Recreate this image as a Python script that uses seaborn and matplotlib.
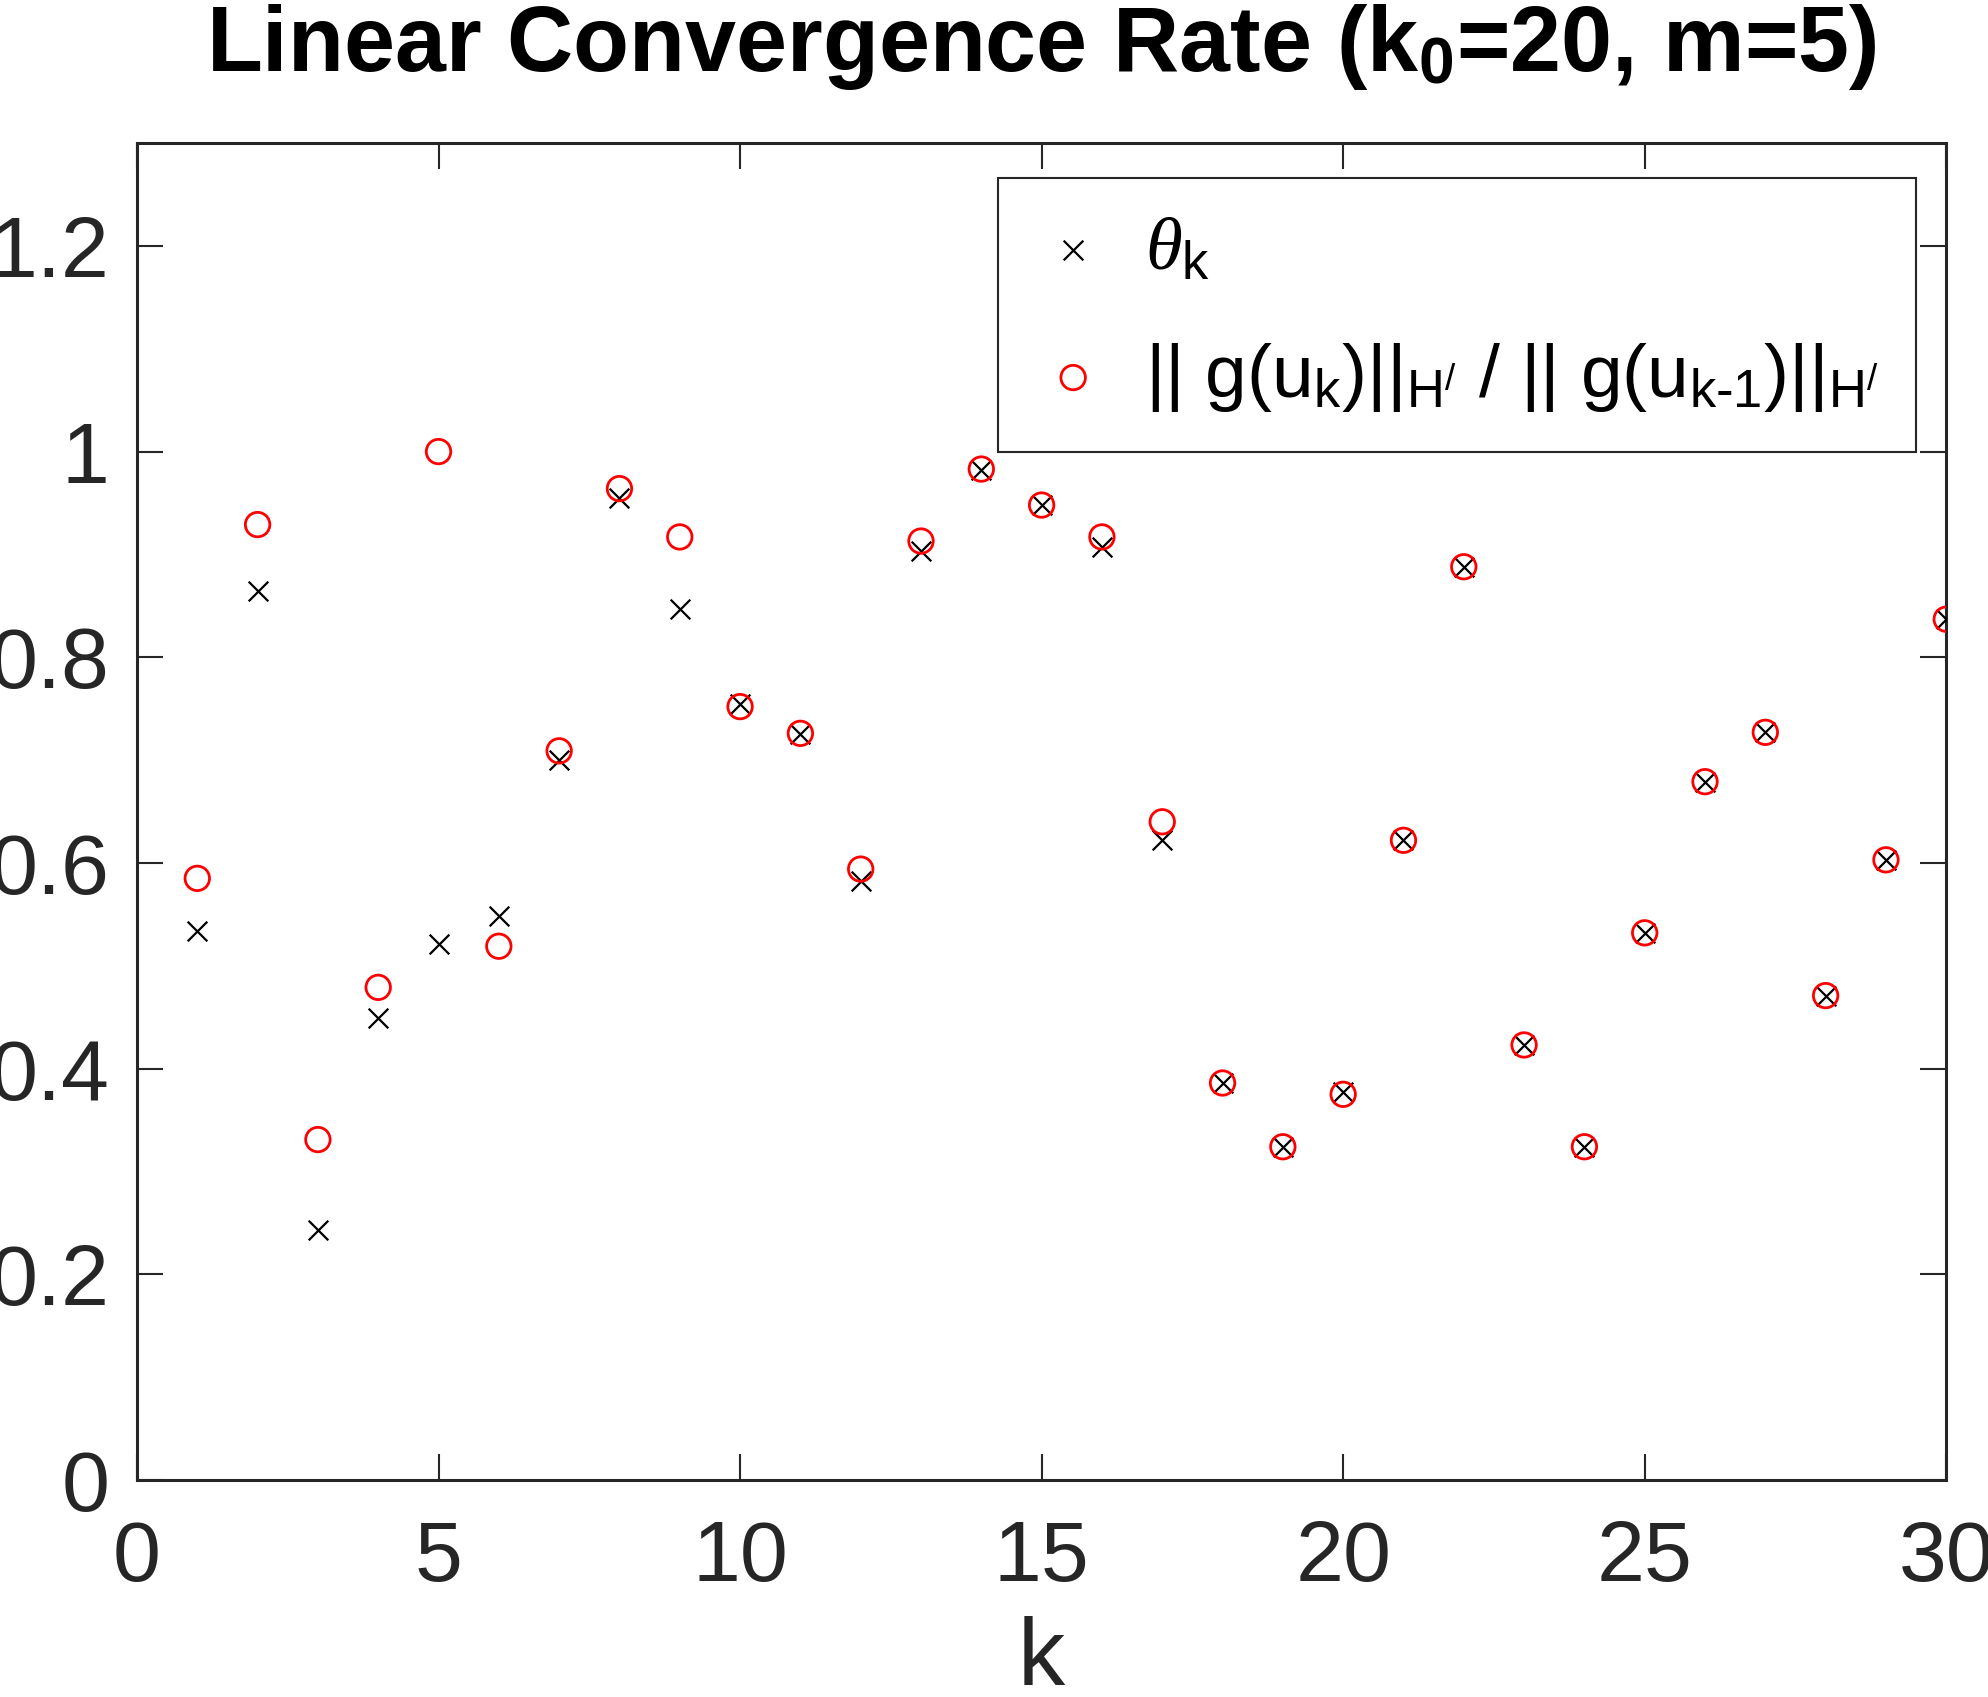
import numpy as np
import pandas as pd
import seaborn as sns
import matplotlib
matplotlib.use("Agg")
import matplotlib.pyplot as plt

k_values = list(range(1, 31))
theta_k = [0.534, 0.864, 0.243, 0.449, 0.521, 0.548, 0.700, 0.955, 0.847, 0.755,
           0.725, 0.582, 0.903, 0.982, 0.948, 0.907, 0.622, 0.386, 0.324, 0.377,
           0.622, 0.888, 0.423, 0.324, 0.532, 0.679, 0.727, 0.471, 0.603, 0.837]
grad_ratio = [0.585, 0.929, 0.331, 0.479, 1.000, 0.519, 0.709, 0.964, 0.917, 0.752,
              0.726, 0.594, 0.913, 0.983, 0.948, 0.917, 0.640, 0.386, 0.324, 0.375,
              0.622, 0.888, 0.423, 0.324, 0.532, 0.679, 0.727, 0.471, 0.603, 0.837]
x_ticks = [0, 5, 10, 15, 20, 25, 30]
y_ticks = [0, 0.2, 0.4, 0.6, 0.8, 1.0, 1.2]
y_tick_labels = ["0", "0.2", "0.4", "0.6", "0.8", "1", "1.2"]

df = pd.DataFrame({"k": k_values, "theta": theta_k, "ratio": grad_ratio})

sns.set_theme(style="ticks")
plt.rcParams['font.family'] = ['Liberation Sans', 'DejaVu Sans']
plt.rcParams['mathtext.fontset'] = 'custom'
plt.rcParams['mathtext.rm'] = 'Liberation Sans'
plt.rcParams['mathtext.it'] = 'Liberation Serif:italic'
plt.rcParams['mathtext.bf'] = 'Liberation Sans:bold'

fig = plt.figure(figsize=(19.88, 16.97), dpi=100)
ax = fig.add_axes([0.0689, 0.1279, 0.9101, 0.7878])

sns.scatterplot(data=df, x="k", y="theta", ax=ax, marker="x",
                s=200, color="black", linewidth=1.6,
                label=r"$\theta_{\mathrm{k}}$", zorder=3)
sns.scatterplot(data=df, x="k", y="ratio", ax=ax, marker="o",
                s=310, facecolor="none", edgecolor="red", color="red",
                linewidth=2.0,
                label=r"|| g(u$_{\mathrm{k}}$)||$_{\mathrm{H}^{\mathrm{/}}}$ / || g(u$_{\mathrm{k\text{-}1}}$)||$_{\mathrm{H}^{\mathrm{/}}}$",
                zorder=4)

ax.set_xlim(0, 30)
ax.set_ylim(0, 1.3)
ax.set_xticks(x_ticks)
ax.set_xticklabels([str(t) for t in x_ticks])
ax.set_yticks(y_ticks)
ax.set_yticklabels(y_tick_labels)
ax.tick_params(axis="both", which="both", direction="in", length=19, width=1.5,
               top=True, right=True, labelsize=62, colors="#262626")
ax.tick_params(axis="y", pad=20)
ax.tick_params(axis="x", pad=28)
for sp in ax.spines.values():
    sp.set_linewidth(2.2)
    sp.set_color("#262626")
ax.set_xlabel("k", fontsize=68, color="#262626", labelpad=12)
ax.set_ylabel("")
ax.set_title(r"Linear Convergence Rate (k$_{\mathbf{0}}$=20, m=5)",
             fontsize=66, fontweight="bold", pad=52, color="black")

leg = ax.legend(loc="upper right", bbox_to_anchor=(0.9835, 0.9735),
                fontsize=54, frameon=True, fancybox=False, framealpha=1,
                edgecolor="#262626", borderpad=0.5, labelspacing=0.75,
                handletextpad=0.46, handlelength=1.0, borderaxespad=0)
leg.get_frame().set_linewidth(1.5)
for t in leg.get_texts():
    t.set_color("black")

fig.savefig("out.png", dpi=100)
